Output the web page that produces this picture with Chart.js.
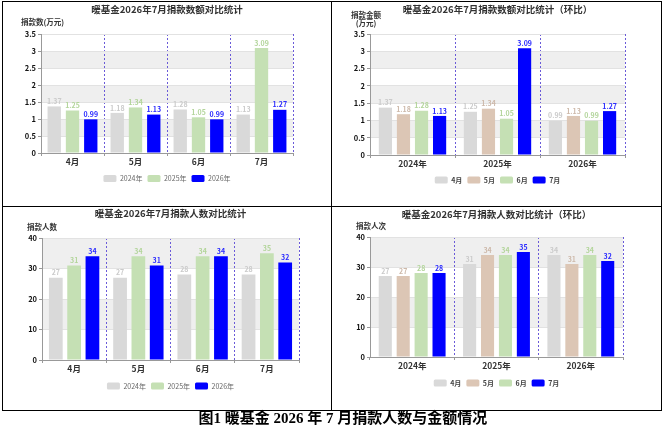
<!DOCTYPE html>
<html><head><meta charset="utf-8">
<script src="https://cdn.jsdelivr.net/npm/chart.js@4.4.1/dist/chart.umd.min.js"></script>
<style>
html,body{margin:0;padding:0;background:#fff;}
#page{position:relative;width:663px;height:429px;overflow:hidden;background:#fff;}
canvas{position:absolute;}
.frame{position:absolute;border:1px solid #000;box-sizing:border-box;}
.line{position:absolute;background:#000;}
#caption{position:absolute;left:0;width:686px;top:409px;text-align:center;font-weight:bold;font-size:15px;font-family:"Liberation Serif","Noto Sans CJK SC",serif;line-height:18px;color:#000;}
</style></head><body>
<div id="page">
  <div class="frame" style="left:2px;top:1px;width:660px;height:410px"></div>
  <div class="line" style="left:331px;top:1px;width:1px;height:410px"></div>
  <div class="line" style="left:2px;top:206px;width:660px;height:1px"></div>
  <canvas id="c1" width="328" height="204" style="left:3px;top:2px"></canvas>
  <canvas id="c2" width="329" height="204" style="left:332px;top:2px"></canvas>
  <canvas id="c3" width="328" height="203" style="left:3px;top:207px"></canvas>
  <canvas id="c4" width="329" height="203" style="left:332px;top:207px"></canvas>
  <div id="caption">图1 暖基金 2026 年 7 月捐款人数与金额情况</div>
</div>
<script>
// ---------- data ----------
const months = ['4月', '5月', '6月', '7月'];
const years = ['2024年', '2025年', '2026年'];
const amount2024 = [1.37, 1.18, 1.28, 1.13];
const amount2025 = [1.25, 1.34, 1.05, 3.09];
const amount2026 = [0.99, 1.13, 0.99, 1.27];
const donors2024 = [27, 27, 28, 28];
const donors2025 = [31, 34, 34, 35];
const donors2026 = [34, 31, 34, 32];
const amountTicks = ['0', '0.5', '1', '1.5', '2', '2.5', '3', '3.5'];
const donorTicks = ['0', '10', '20', '30', '40'];

// ---------- styles ----------
const FONT = '"Noto Sans CJK SC", "Noto Sans", sans-serif';
const C_GREY = '#d9d9d9', C_TAN = '#dcc6b5', C_GREEN = '#c5e0b4', C_BLUE = '#0000ff';
const L_GREY = '#cbcbcb', L_TAN = '#cdb9aa', L_GREEN = '#b3d59b', L_BLUE = '#2b2bff';

const bandPlugin = {
  id: 'bands',
  beforeDraw(chart, args, opts) {
    const {ctx, chartArea} = chart;
    const y = chart.scales.y;
    ctx.save();
    ctx.fillStyle = opts.color;
    for (let i = 0; i < y.ticks.length - 1; i++) {
      if (i % 2 === 1) {
        const y0 = y.getPixelForValue(y.ticks[i].value);
        const y1 = y.getPixelForValue(y.ticks[i + 1].value);
        ctx.fillRect(chartArea.left, y1, chartArea.right - chartArea.left, y0 - y1);
      }
    }
    ctx.restore();
  }
};

const valueLabelPlugin = {
  id: 'valueLabels',
  afterDatasetsDraw(chart, args, opts) {
    const ctx = chart.ctx;
    ctx.save();
    ctx.font = 'bold ' + opts.size + 'px ' + FONT;
    ctx.textAlign = 'center';
    ctx.textBaseline = 'bottom';
    chart.data.datasets.forEach((ds, di) => {
      const meta = chart.getDatasetMeta(di);
      ctx.fillStyle = opts.colors[di];
      meta.data.forEach((bar, i) => {
        ctx.fillText(ds.data[i].toFixed(opts.decimals), bar.x, bar.y - 1.5);
      });
    });
    ctx.restore();
  }
};

const axisNamePlugin = {
  id: 'axisName',
  afterDraw(chart, args, opts) {
    const {ctx, chartArea} = chart;
    ctx.save();
    ctx.font = 'bold ' + opts.size + 'px ' + FONT;
    ctx.fillStyle = '#333';
    ctx.textAlign = opts.align;
    ctx.textBaseline = 'middle';
    opts.lines.forEach((t, i) => {
      ctx.fillText(t, chartArea.left + opts.dx, chartArea.top + opts.dy + i * opts.lineGap);
    });
    ctx.restore();
  }
};

function makeChart(id, g, labels, datasets, title, yMax, yStep, tickLabels, decimals, labelColors, axisName, legendBold) {
  const canvas = document.getElementById(id);
  const w = canvas.width, h = canvas.height;
  const legFont = 7, legPad = 5;
  const legendH = legFont + legPad + 10;
  const padBottom = h - 10 - legFont / 2 - g.legendY;
  const xHeight = (h - padBottom - legendH) - g.area.b;
  const titleSize = 9.5, titleLH = titleSize * 1.2;
  const tTop = g.titleY - titleLH / 2;
  const tBottom = g.area.t - tTop - titleLH;
  return new Chart(canvas, {
    type: 'bar',
    data: {labels, datasets},
    options: {
      responsive: false,
      animation: false,
      layout: {padding: {left: 0, top: 0, right: w - g.area.r, bottom: padBottom}},
      plugins: {
        title: {
          display: true, text: title, fullSize: false, color: '#333',
          font: {family: FONT, size: titleSize, weight: 'bold', lineHeight: 1.2},
          padding: {top: tTop, bottom: tBottom}
        },
        legend: {
          display: true, position: 'bottom', fullSize: false,
          labels: {
            font: {family: FONT, size: legFont, weight: legendBold ? 'bold' : 'normal'},
            color: legendBold ? '#444' : '#666',
            boxWidth: 13, boxHeight: 7, padding: legPad,
            useBorderRadius: true, borderRadius: 1.5
          }
        },
        tooltip: {enabled: false},
        bands: {color: '#efefef'},
        valueLabels: {size: 7, decimals, colors: labelColors},
        axisName
      },
      scales: {
        x: {
          offset: true,
          grid: {
            offset: true, lineWidth: 1,
            color: (c) => (c.index === 0 ? 'rgba(0,0,0,0)' : '#6a5ad8'),
            drawTicks: true, tickLength: 3, tickColor: '#999'
          },
          border: {display: true, color: '#999', width: 1, dash: [2, 2]},
          ticks: {color: '#333', padding: 1, font: {family: FONT, size: 8.5, weight: 'bold'}},
          afterFit(scale) { scale.height = xHeight; }
        },
        y: {
          min: 0, max: yMax,
          ticks: {
            stepSize: yStep, color: '#111', padding: 2,
            font: {family: FONT, size: 7.5, weight: 'bold'},
            callback: (v, i) => tickLabels[i]
          },
          grid: {color: '#e2e2e2', lineWidth: 1, drawTicks: true, tickLength: 3, tickColor: '#999'},
          border: {display: true, color: '#999', width: 1},
          afterFit(scale) { scale.width = g.area.l; }
        }
      }
    },
    plugins: [bandPlugin, valueLabelPlugin, axisNamePlugin]
  });
}

function bar(label, data, color, catPct, barPct) {
  return {label, data, backgroundColor: color, borderWidth: 0, categoryPercentage: catPct, barPercentage: barPct};
}
function byMonth(a, b, c, i) { return [a[i], b[i], c[i]]; }

// Panel 1: amount by month
makeChart('c1',
  {area: {l: 38, r: 290, t: 32, b: 151}, titleY: 7.5, legendY: 176.5},
  months,
  [bar(years[0], amount2024, C_GREY, 0.87, 0.73),
   bar(years[1], amount2025, C_GREEN, 0.87, 0.73),
   bar(years[2], amount2026, C_BLUE, 0.87, 0.73)],
  '暖基金2026年7月捐款数额对比统计', 3.5, 0.5, amountTicks, 2,
  [L_GREY, L_GREEN, L_BLUE],
  {lines: ['捐款数(万元)'], dx: -20, dy: -12, align: 'left', size: 7.5, lineGap: 0}, false);

// Panel 2: amount by year (month-on-month)
makeChart('c2',
  {area: {l: 38, r: 293, t: 32, b: 153}, titleY: 7.5, legendY: 178},
  years,
  [bar(months[0], byMonth(amount2024, amount2025, amount2026, 0), C_GREY, 0.85, 0.73),
   bar(months[1], byMonth(amount2024, amount2025, amount2026, 1), C_TAN, 0.85, 0.73),
   bar(months[2], byMonth(amount2024, amount2025, amount2026, 2), C_GREEN, 0.85, 0.73),
   bar(months[3], byMonth(amount2024, amount2025, amount2026, 3), C_BLUE, 0.85, 0.73)],
  '暖基金2026年7月捐款数额对比统计（环比）', 3.5, 0.5, amountTicks, 2,
  [L_GREY, L_TAN, L_GREEN, L_BLUE],
  {lines: ['捐款金额', '(万元)'], dx: -4, dy: -19, align: 'center', size: 7.5, lineGap: 8}, true);

// Panel 3: donors by month
makeChart('c3',
  {area: {l: 39, r: 296, t: 31, b: 153}, titleY: 6.7, legendY: 179},
  months,
  [bar(years[0], donors2024, C_GREY, 0.855, 0.75),
   bar(years[1], donors2025, C_GREEN, 0.855, 0.75),
   bar(years[2], donors2026, C_BLUE, 0.855, 0.75)],
  '暖基金2026年7月捐款人数对比统计', 40, 10, donorTicks, 0,
  [L_GREY, L_GREEN, L_BLUE],
  {lines: ['捐款人数'], dx: -15, dy: -11, align: 'left', size: 7.5, lineGap: 0}, false);

// Panel 4: donors by year (month-on-month)
makeChart('c4',
  {area: {l: 38, r: 291, t: 30, b: 150}, titleY: 7, legendY: 176},
  years,
  [bar(months[0], byMonth(donors2024, donors2025, donors2026, 0), C_GREY, 0.85, 0.73),
   bar(months[1], byMonth(donors2024, donors2025, donors2026, 1), C_TAN, 0.85, 0.73),
   bar(months[2], byMonth(donors2024, donors2025, donors2026, 2), C_GREEN, 0.85, 0.73),
   bar(months[3], byMonth(donors2024, donors2025, donors2026, 3), C_BLUE, 0.85, 0.73)],
  '暖基金2026年7月捐款人数对比统计（环比）', 40, 10, donorTicks, 0,
  [L_GREY, L_TAN, L_GREEN, L_BLUE],
  {lines: ['捐款人次'], dx: -14, dy: -11, align: 'left', size: 7.5, lineGap: 0}, true);
</script>
</body></html>
